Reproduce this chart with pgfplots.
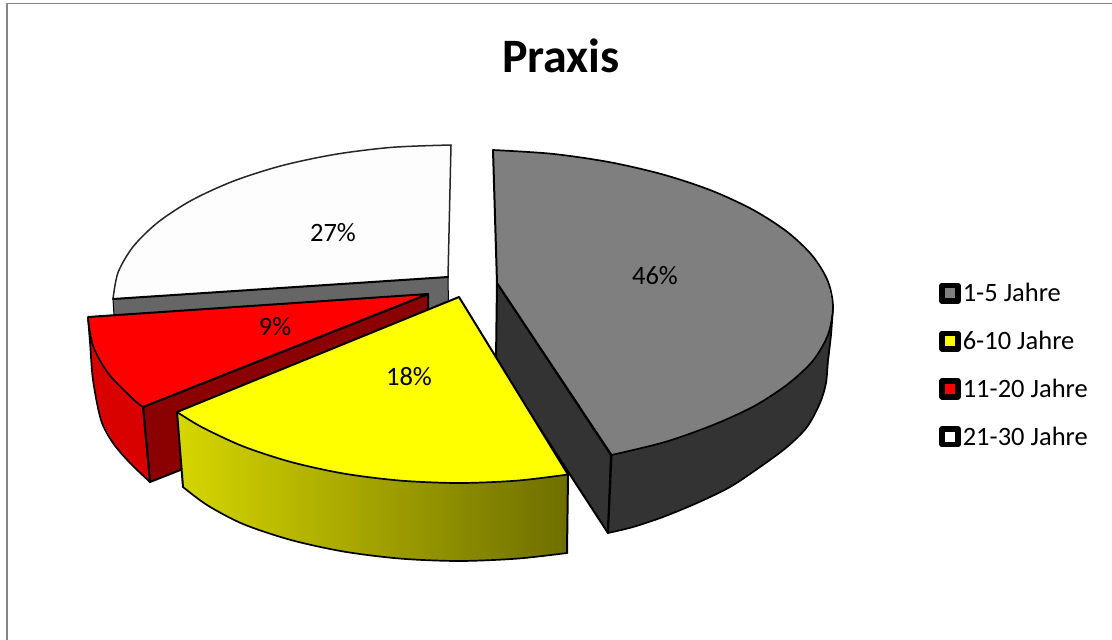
\documentclass[border=0pt]{standalone}
\usepackage{pgfplots}
\pgfplotsset{compat=1.18}
\usepackage{fontspec}
\setmainfont{Carlito}
\definecolor{gTop}{RGB}{127,127,127}
\definecolor{gDark}{RGB}{51,51,51}
\definecolor{wTop}{RGB}{253,253,253}
\definecolor{wWall}{RGB}{102,102,102}
\definecolor{rTop}{RGB}{255,0,0}
\definecolor{rSide}{RGB}{217,0,0}
\definecolor{rDark}{RGB}{139,0,0}
\definecolor{yTop}{RGB}{255,255,0}
\definecolor{ySideL}{RGB}{214,214,0}
\definecolor{ySideR}{RGB}{110,110,0}
\definecolor{frame}{RGB}{134,134,134}
\begin{document}
\begin{tikzpicture}[x=1pt,y=1pt]
\path[use as bounding box] (0,0) rectangle (1112,640);
\begin{axis}[
  at={(0,0)},anchor=south west,scale only axis,width=1112pt,height=640pt,
  xmin=0,xmax=1112,ymin=0,ymax=640,y dir=reverse,hide axis,clip=false,
  every axis plot/.append style={line join=round,line cap=round,line width=2pt,mark=none,forget plot},
  legend style={draw=none,fill=none,at={(axis cs:942,283)},anchor=north west,
    font=\fontsize{26.5}{28}\selectfont,row sep=28pt,inner sep=0pt,
    nodes={inner xsep=5pt,inner ysep=0pt}},
  legend cell align=left,
]
% frame
\addplot[draw=frame,line width=1.5pt,line cap=butt] coordinates {(7,640) (7,3.5) (1112,3.5)};
% white slice wall and top
\addplot[draw=black,fill=wWall,line width=1pt] coordinates {(113,299) (448,277) (449,332) (115,332)} -- cycle;
\addplot[fill=wTop,draw=none] coordinates {(451,145) (392.3,147.3) (335.4,154.3) (282,165.6) (233.7,181) (192.1,200) (158.3,222) (133.4,246.3) (118.1,272.3) (113,299) (448,277)} -- cycle;
\addplot[draw=black!85,smooth,line width=1.5pt] coordinates {(451,145) (392.3,147.3) (335.4,154.3) (282,165.6) (233.7,181) (192.1,200) (158.3,222) (133.4,246.3) (118.1,272.3) (113,299)};
\addplot[draw=black!85,line width=1.5pt] coordinates {(451,145) (448,277)};
\addplot[draw=black] coordinates {(448,277) (113,299)};
% grey slice
\addplot[draw=black,fill=gDark] coordinates {(497,283) (611,455) (608,533) (496,361)} -- cycle;
\addplot[fill=gDark,draw=none] coordinates {(833,307) (827.9,335) (812.7,361) (788,384) (754.4,406) (713,425) (665,442) (611.5,455) (608,533) (633,527) (663,517) (697,503) (730,487) (760,467) (787,447) (807,427) (820,403) (826,383) (830,350)} -- cycle;
\addplot[draw=black,smooth,line width=1.7pt] coordinates {(833,307) (831,335) (828,360) (826,383) (820,403) (807,427) (787,447) (760,467) (730,487) (697,503) (663,517) (633,527) (608,533)};
\addplot[draw=black] coordinates {(611.5,455) (608,533)};
\addplot[fill=gTop,draw=none] coordinates {(493,150) (552,153.8) (609.3,162.1) (663,174.5) (711.6,190.6) (753.4,210) (787.4,232) (812.5,255.9) (827.8,281.1) (833,307) (827.9,335) (812.7,361) (788,384) (754.4,406) (713,425) (665,442) (611.5,455) (497,283)} -- cycle;
\addplot[draw=black,smooth,line width=1.7pt] coordinates {(493,150) (552,153.8) (609.3,162.1) (663,174.5) (711.6,190.6) (753.4,210) (787.4,232) (812.5,255.9) (827.8,281.1) (833,307) (827.9,335) (812.7,361) (788,384) (754.4,406) (713,425) (665,442) (611.5,455)};
\addplot[draw=black] coordinates {(493,150) (497,283) (611.5,455)};
% red slice
\addplot[draw=black,fill=rDark] coordinates {(143,407) (428,294) (428,372) (150,482)} -- cycle;
\addplot[fill=rSide,draw=none] coordinates {(88,318) (93.1,346) (108.5,373.7) (133.6,399.5) (143,407) (150,482) (130,463) (113,443) (101,420) (93,380) (90,342)} -- cycle;
\addplot[draw=black,smooth,line width=1.7pt] coordinates {(88,318) (90,342) (93,380) (101,420) (113,443) (130,463) (150,482)};
\addplot[draw=black] coordinates {(143,407) (150,482)};
\addplot[fill=rTop,draw=none] coordinates {(88,317) (428,294) (143,407) (133.6,399.5) (108.5,373.7) (93.1,346)} -- cycle;
\addplot[draw=black,smooth,line width=1.7pt] coordinates {(88,318) (93.1,346) (108.5,373.7) (133.6,399.5) (143,407)};
\addplot[draw=black] coordinates {(88,317) (428,294) (143,407)};
% yellow slice
\addplot[left color=ySideL,right color=ySideR,draw=none] coordinates {(177,412) (201.6,427) (243,446.3) (291,462) (344,473.6) (400.5,480.6) (459,483) (517.3,480.6) (568,474.5) (567,553) (517.3,558.6) (459,561) (400.5,558.6) (344,551.6) (291,540) (243,524) (207,505) (183,487)} -- cycle;
\addplot[draw=black,smooth,line width=1.7pt] coordinates {(183,487) (207,505) (243,524) (291,540) (344,551.6) (400.5,558.6) (459,561) (517.3,558.6) (567,553)};
\addplot[draw=black] coordinates {(177,412) (183,487)};
\addplot[draw=black] coordinates {(568,474.5) (567,553)};
\addplot[fill=yTop,draw=none] coordinates {(459,297) (177,412) (201.6,427) (243,446.3) (291,462) (344,473.6) (400.5,480.6) (459,483) (517.3,480.6) (568,474.5)} -- cycle;
\addplot[draw=black,smooth,line width=1.7pt] coordinates {(177,412) (201.6,427) (243,446.3) (291,462) (344,473.6) (400.5,480.6) (459,483) (517.3,480.6) (568,474.5)};
\addplot[draw=black] coordinates {(177,412) (459,297) (568,474.5)};
% legend
\addlegendimage{only marks,mark=square*,line width=5.5pt,mark size=7.8pt,mark options={draw=black,fill=gTop,rounded corners=1.5pt}}
\addlegendentry{1-5 Jahre}
\addlegendimage{only marks,mark=square*,line width=5.5pt,mark size=7.8pt,mark options={draw=black,fill=yTop,rounded corners=1.5pt}}
\addlegendentry{6-10 Jahre}
\addlegendimage{only marks,mark=square*,line width=5.5pt,mark size=7.8pt,mark options={draw=black,fill=rTop,rounded corners=1.5pt}}
\addlegendentry{11-20 Jahre}
\addlegendimage{only marks,mark=square*,line width=5.5pt,mark size=7.8pt,mark options={draw=black,fill=white,rounded corners=1.5pt}}
\addlegendentry{21-30 Jahre}
% labels
\node[font=\fontsize{48}{54}\selectfont\bfseries] at (axis cs:561,56) {Praxis};
\node[font=\fontsize{26.5}{30}\selectfont] at (axis cs:655,276) {46\%};
\node[font=\fontsize{26.5}{30}\selectfont] at (axis cs:333,233) {27\%};
\node[font=\fontsize{26.5}{30}\selectfont] at (axis cs:275,327) {9\%};
\node[font=\fontsize{26.5}{30}\selectfont] at (axis cs:409,377) {18\%};
\end{axis}
\end{tikzpicture}
\end{document}
